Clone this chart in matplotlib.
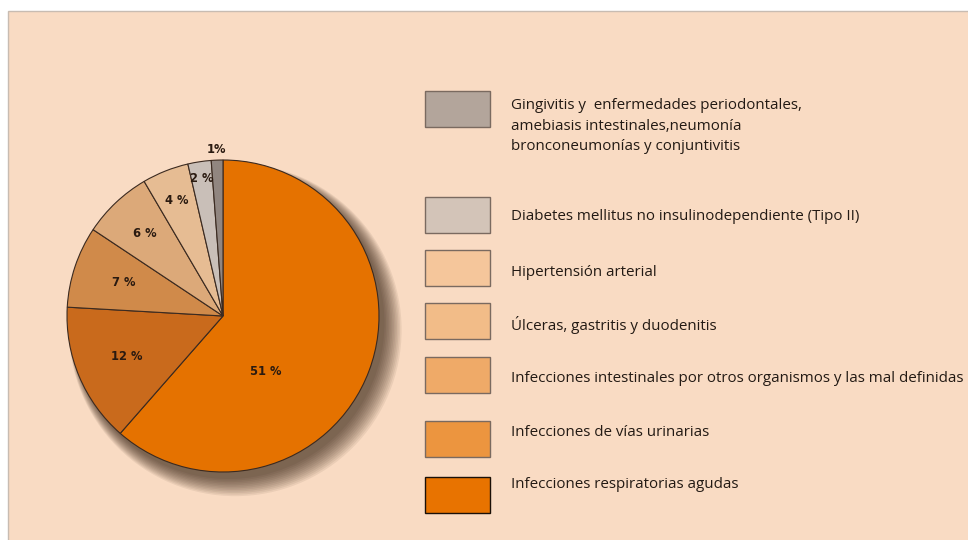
import numpy as np
import matplotlib.pyplot as plt
from matplotlib.patches import Rectangle, Circle

# categories (legend order, top to bottom) and values
categorias = [
    'Gingivitis y  enfermedades periodontales,\namebiasis intestinales,neumonía\nbronconeumonías y conjuntivitis',
    'Diabetes mellitus no insulinodependiente (Tipo II)',
    'Hipertensión arterial',
    'Úlceras, gastritis y duodenitis',
    'Infecciones intestinales por otros organismos y las mal definidas',
    'Infecciones de vías urinarias',
    'Infecciones respiratorias agudas',
]
valores = [1, 2, 4, 6, 7, 12, 51]
etiquetas = ['1%', '2 %', '4 %', '6 %', '7 %', '12 %', '51 %']

legend_colors = ['#B3A59B', '#D3C4B8', '#F5C69B', '#F2BC88', '#EFAA68', '#EC953F', '#E87300']
pie_colors = ['#918680', '#C9BFB8', '#E6BC93', '#DCA979', '#D08A4A', '#C96A1C', '#E57200']

W, H = 968, 540
fig = plt.figure(figsize=(W / 100, H / 100), dpi=100)
fig.patch.set_facecolor('white')

# background panel in pixel coordinates
bg = fig.add_axes([0, 0, 1, 1])
bg.set_xlim(0, W)
bg.set_ylim(H, 0)
bg.axis('off')
bg.add_patch(Rectangle((8, 11), W + 10, H, facecolor='#F9DBC3', edgecolor='#C8BCB2', lw=1))

# pie
cx, cy, R = 223, 316, 156
ax = fig.add_axes([(cx - R) / W, (H - cy - R) / H, 2 * R / W, 2 * R / H])
ax.set_xlim(-1, 1)
ax.set_ylim(-1, 1)
ax.set_aspect('equal')
ax.axis('off')

# soft shadow toward lower right
for i in range(12):
    ax.add_patch(Circle((0.035 + 0.004 * i, -0.045 - 0.004 * i), 1.0 + 0.006 * i,
                        color='#2a1608', alpha=0.07, lw=0, zorder=0, clip_on=False))

vals = valores[::-1]
cols = pie_colors[::-1]
wedges, _ = ax.pie(vals, colors=cols, startangle=90, counterclock=False, radius=1,
                   wedgeprops=dict(edgecolor='#3b2a20', linewidth=0.8))
for w in wedges:
    w.set_zorder(2)
    w.set_clip_on(False)
ax.set_xlim(-1, 1)
ax.set_ylim(-1, 1)

# label placement (radius fraction per wedge, largest wedge first)
dist = [0.45, 0.67, 0.67, 0.73, 0.80, 0.89, 1.07]
labs = etiquetas[::-1]
for k, w in enumerate(wedges):
    ang = np.deg2rad((w.theta1 + w.theta2) / 2)
    if k == 0:
        ang = np.deg2rad(-52)
    x, y = dist[k] * np.cos(ang), dist[k] * np.sin(ang)
    ax.text(x, y, labs[k], ha='center', va='center', fontsize=8.3, fontweight='bold',
            color='#2a1a10', zorder=5, clip_on=False)

# legend
box_y = [91, 197, 250, 303, 357, 421, 477]
text_y = [126, 217, 272, 325, 378, 432, 485]
for yb, ty, c, lab in zip(box_y, text_y, legend_colors, categorias):
    ec = '#1a1008' if c == '#E87300' else '#7a6a60'
    bg.add_patch(Rectangle((425, yb), 65, 36, facecolor=c, edgecolor=ec, lw=1))
    bg.text(511, ty, lab, ha='left', va='center', fontsize=10.9, family='Open Sans',
            color='#231a14', linespacing=1.5)

fig.savefig('out.png', dpi=100)
